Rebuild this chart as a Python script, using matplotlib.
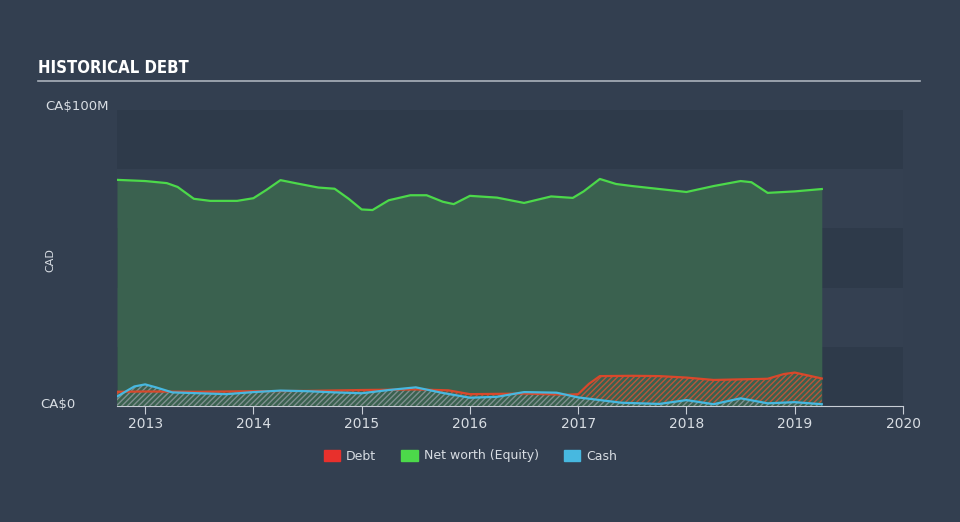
import matplotlib
matplotlib.use("Agg")
import matplotlib.pyplot as plt
from matplotlib.patches import Patch

# values (years, CA$ millions)
equity_x = [2012.74, 2013.0, 2013.2, 2013.3, 2013.45, 2013.6, 2013.85, 2014.0, 2014.12, 2014.25,
            2014.4, 2014.6, 2014.75, 2014.88, 2015.0, 2015.1, 2015.25, 2015.45, 2015.6, 2015.75,
            2015.85, 2016.0, 2016.25, 2016.5, 2016.75, 2016.95, 2017.05, 2017.2, 2017.35, 2017.5,
            2017.75, 2018.0, 2018.25, 2018.5, 2018.6, 2018.75, 2019.0, 2019.25]
equity_y = [76.4, 76.0, 75.3, 74.0, 70.0, 69.3, 69.3, 70.2, 73.0, 76.3,
            75.2, 73.8, 73.4, 70.0, 66.4, 66.2, 69.5, 71.2, 71.2, 69.0,
            68.2, 71.0, 70.4, 68.6, 70.8, 70.3, 72.5, 76.7, 75.0, 74.3,
            73.3, 72.3, 74.3, 76.0, 75.6, 72.0, 72.5, 73.3]

debt_x = [2012.74, 2013.0, 2013.5, 2014.0, 2014.5, 2015.0, 2015.5, 2015.8, 2016.0, 2016.5,
          2016.9, 2017.0, 2017.1, 2017.2, 2017.5, 2017.75, 2018.0, 2018.25, 2018.5, 2018.75,
          2018.9, 2019.0, 2019.25]
debt_y = [4.8, 4.9, 4.8, 5.0, 5.1, 5.4, 5.6, 5.3, 4.0, 4.2,
          3.8, 4.0, 7.5, 10.1, 10.2, 10.1, 9.6, 8.8, 9.0, 9.2,
          10.8, 11.3, 9.3]

cash_x = [2012.74, 2012.9, 2013.0, 2013.1, 2013.25, 2013.5, 2013.75, 2014.0, 2014.25, 2014.5,
          2014.75, 2015.0, 2015.25, 2015.5, 2015.75, 2016.0, 2016.25, 2016.5, 2016.8, 2017.0,
          2017.2, 2017.4, 2017.75, 2018.0, 2018.25, 2018.5, 2018.75, 2019.0, 2019.25]
cash_y = [3.2, 6.6, 7.3, 6.3, 4.6, 4.3, 4.0, 4.7, 5.2, 5.0,
          4.6, 4.3, 5.4, 6.3, 4.4, 2.8, 3.1, 4.7, 4.5, 2.9,
          2.0, 1.1, 0.7, 2.0, 0.6, 2.6, 0.9, 1.3, 0.6]

year_ticks = [2013, 2014, 2015, 2016, 2017, 2018, 2019, 2020]

bg = "#333f50"
band_dark = "#2e3a4a"
band_light = "#344051"
eq_fill = "#3a614f"
eq_line = "#4cd94a"
debt_line = "#d9482b"
cash_line = "#47b8e0"
text_col = "#d8dde3"

fig = plt.figure(figsize=(9.6, 5.22), dpi=100, facecolor=bg)
ax = fig.add_axes([117 / 960, 116 / 522, 786 / 960, 296 / 522])
ax.set_facecolor(band_dark)

# alternating background bands
for i, lo in enumerate(range(0, 100, 20)):
    ax.axhspan(lo, lo + 20, color=band_dark if i % 2 == 0 else band_light, lw=0, zorder=0)

ax.fill_between(equity_x, equity_y, 0, color=eq_fill, lw=0, zorder=1)
ax.plot(equity_x, equity_y, color=eq_line, lw=1.6, zorder=4)

ax.fill_between(debt_x, debt_y, 0, facecolor=eq_fill, edgecolor="#b9563a",
                hatch="//////", lw=0, zorder=2)
ax.plot(debt_x, debt_y, color=debt_line, lw=1.6, zorder=5)

ax.fill_between(cash_x, cash_y, 0, facecolor=eq_fill, edgecolor="#7f8f8f",
                hatch="//////", lw=0, zorder=3)
ax.plot(cash_x, cash_y, color=cash_line, lw=1.6, zorder=6)

ax.set_xlim(2012.74, 2020.0)
ax.set_ylim(0, 100)
ax.set_xticks(year_ticks)
ax.set_xticklabels([str(y) for y in year_ticks], color=text_col, fontsize=10)
ax.set_yticks([])
for s in ["top", "right", "left"]:
    ax.spines[s].set_visible(False)
ax.spines["bottom"].set_color("#c8ced6")
ax.tick_params(axis="x", colors="#c8ced6", length=6, pad=2, labelcolor=text_col)

fig.text(45 / 960, 1 - 107 / 522, "CA$100M", color=text_col, fontsize=9.5, va="center", ha="left")
fig.text(40 / 960, 1 - 404 / 522, "CA$0", color=text_col, fontsize=9.5, va="center", ha="left")
fig.text(50 / 960, 1 - 260 / 522, "CAD", color=text_col, fontsize=8, rotation=90, va="center", ha="center")

fig.text(38 / 960, 1 - 68 / 522, "HISTORICAL DEBT", color="white", fontsize=12,
         fontweight="bold", fontstretch="condensed", va="center", ha="left")
fig.add_artist(plt.Line2D([38 / 960, 920 / 960], [1 - 81 / 522, 1 - 81 / 522],
                          color="#aab2bc", lw=1.2))

handles = [Patch(color="#e8302c", label="Debt"),
           Patch(color=eq_line, label="Net worth (Equity)"),
           Patch(color=cash_line, label="Cash")]
fig.legend(handles=handles, loc="center", bbox_to_anchor=(0.49, 1 - 456 / 522), ncol=3,
           frameon=False, fontsize=9, labelcolor=text_col, handlelength=1.3,
           handleheight=1.0, columnspacing=2.0, handletextpad=0.5)

fig.savefig("out.png", dpi=100, facecolor=bg)
